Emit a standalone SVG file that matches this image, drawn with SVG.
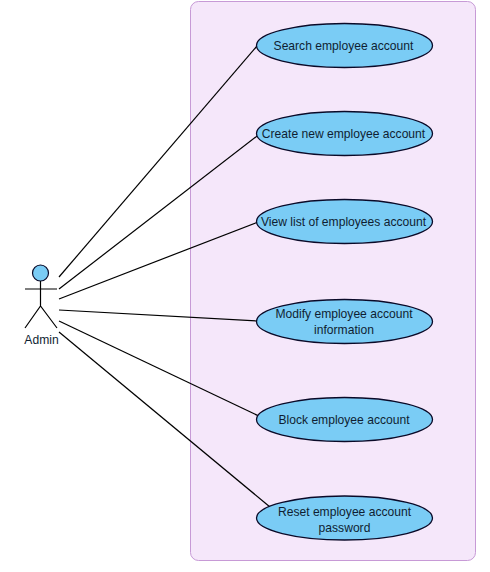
<svg xmlns="http://www.w3.org/2000/svg" width="490" height="572" viewBox="0 0 490 572">
<style>
.uc{fill:#7accf5;stroke:#0a0a28;stroke-width:1.3}
.t{font-family:"Liberation Sans",Arial,sans-serif;font-size:12.1px;fill:#0f1e32;text-anchor:middle}
.c{stroke:#000;stroke-width:1.2;fill:none}
</style>
<rect width="490" height="572" fill="#fff"/>
<rect id="boundary" x="190.500" y="1.500" width="285" height="559" rx="8" fill="#f5e7fa" stroke="#c79ad6" stroke-width="1"/>
<g id="connectors" class="c">
<line x1="59" y1="277" x2="257" y2="46"/>
<line x1="59" y1="289" x2="261" y2="133"/>
<line x1="59" y1="299" x2="258" y2="222"/>
<line x1="59" y1="310" x2="258" y2="321"/>
<line x1="59" y1="321" x2="263" y2="418"/>
<line x1="59" y1="332" x2="270" y2="507"/>
</g>
<g id="actor">
<circle cx="40.500" cy="273" r="8" fill="#7accf5" stroke="#0a0a28" stroke-width="1.200"/>
<path class="c" d="M40.500 281V306M25 289H57M25 328L40.500 306L57 328"/>
<text class="t" x="41.500" y="344">Admin</text>
</g>
<g id="uc1"><ellipse class="uc" cx="344.500" cy="45.500" rx="88" ry="22"/><text class="t" x="343.500" y="50">Search employee account</text></g>
<g id="uc2"><ellipse class="uc" cx="344.500" cy="133.500" rx="88" ry="22"/><text class="t" x="343.500" y="138">Create new employee account</text></g>
<g id="uc3"><ellipse class="uc" cx="344.500" cy="221.500" rx="88" ry="22"/><text class="t" x="343.500" y="226">View list of employees account</text></g>
<g id="uc4"><ellipse class="uc" cx="344.500" cy="321.500" rx="88" ry="22"/><text class="t" x="344" y="318">Modify employee account</text><text class="t" x="344" y="334">information</text></g>
<g id="uc5"><ellipse class="uc" cx="344.500" cy="419.500" rx="88" ry="22"/><text class="t" x="344" y="424">Block employee account</text></g>
<g id="uc6"><ellipse class="uc" cx="344.500" cy="518" rx="88" ry="22"/><text class="t" x="344.500" y="516">Reset employee account</text><text class="t" x="344.500" y="532">password</text></g>
</svg>
